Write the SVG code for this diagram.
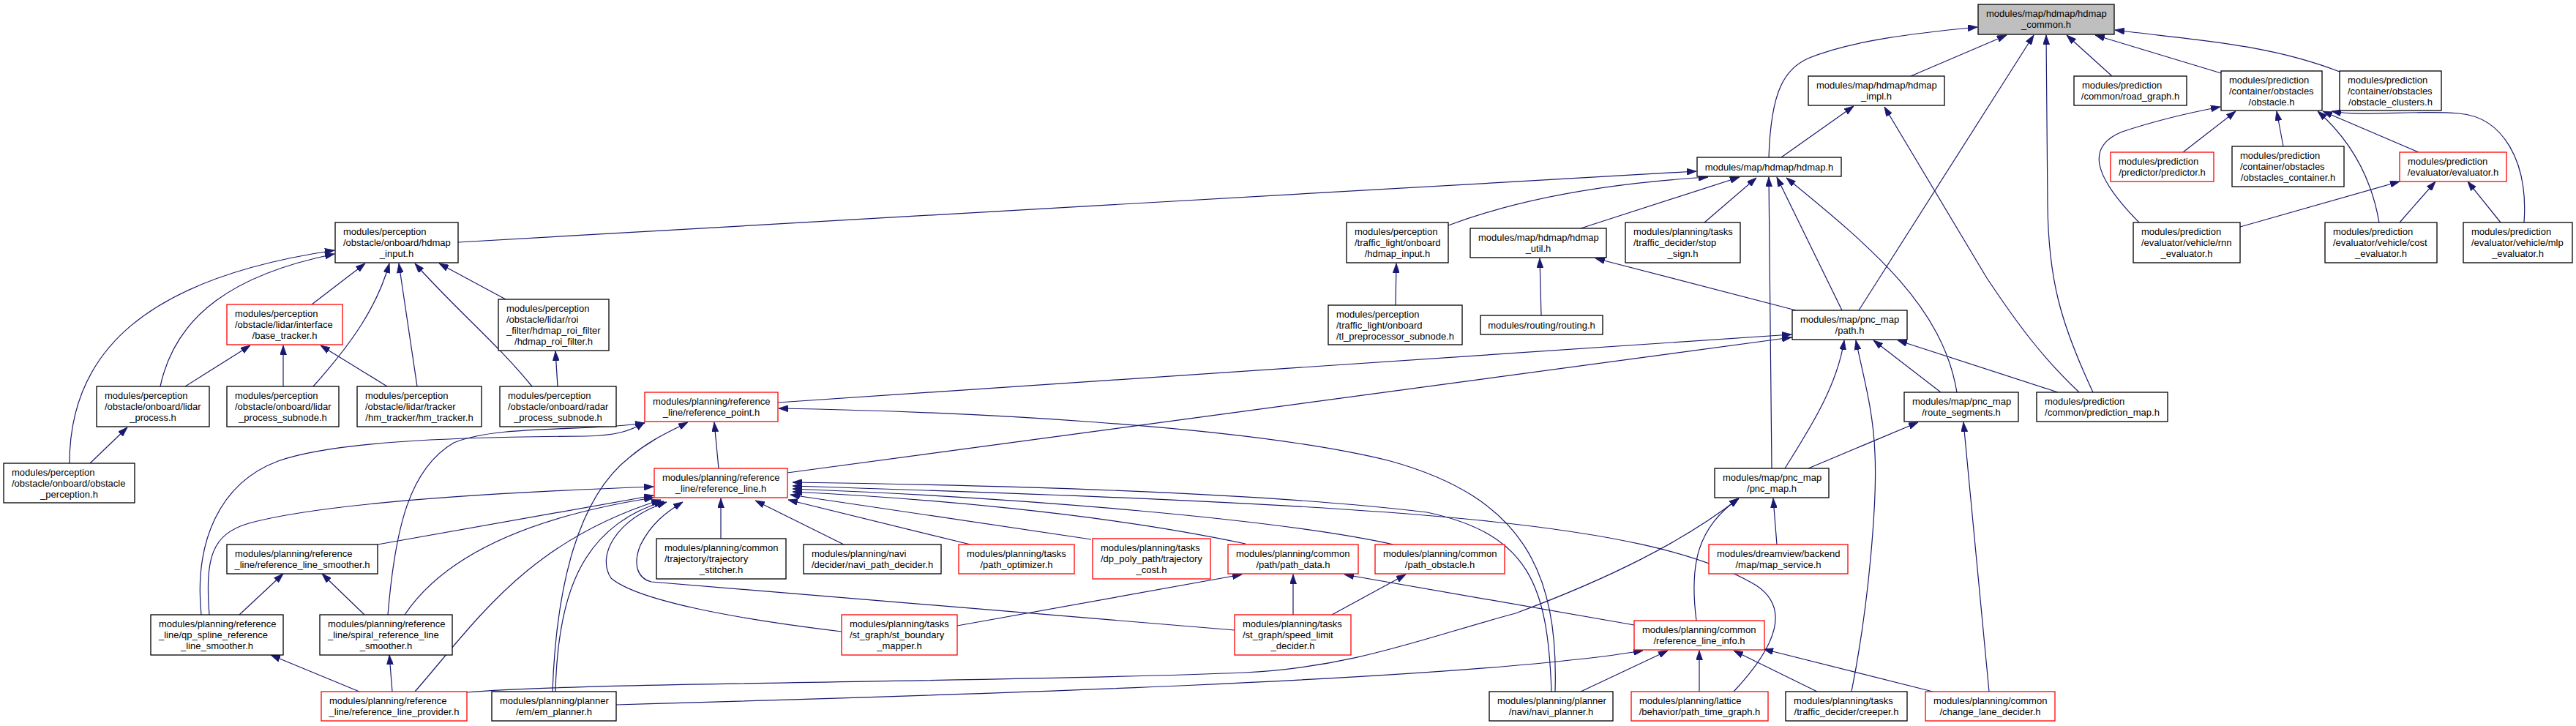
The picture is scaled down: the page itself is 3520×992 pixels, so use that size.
<svg xmlns="http://www.w3.org/2000/svg" width="3520" height="992" viewBox="0 0 3520 992">
<style>
.node rect{fill:#fff;stroke:#000;stroke-width:1.3}
.node.red rect{stroke:#ff0000}
.node.gray rect{fill:#bfbfbf}
.node text{font-family:"Liberation Sans",Arial,sans-serif;font-size:13px;fill:#000}
.node text.m{text-anchor:middle}
#edges path{fill:none;stroke:#191970;stroke-width:1.2;marker-end:url(#ah)}
</style>
<defs>
<marker id="ah" viewBox="0 0 13 9" refX="13" refY="4.5" markerWidth="13" markerHeight="9" markerUnits="userSpaceOnUse" orient="auto">
<path d="M0,0 L13,4.5 L0,9 z" fill="#191970" stroke="#191970" stroke-width="0.8"/>
</marker>
</defs>
<rect x="0" y="0" width="3520" height="992" fill="#fff"/>
<g id="edges">
<path d="M2417,215 C2420,120 2440,95 2470,80 C2530,55 2620,45 2702,37"/>
<path d="M2611,104 L2742,48"/>
<path d="M2540,424 L2779,48"/>
<path d="M2860,536 C2815,440 2799,380 2798,280 L2796,48"/>
<path d="M2886,104 L2824,48"/>
<path d="M3035,100 L2863,48"/>
<path d="M3197,98 C3100,60 3000,55 2890,41"/>
<path d="M2434,215 L2533,145"/>
<path d="M2841,536 C2790,488 2755,440 2715,380 L2575,146"/>
<path d="M626,331 L2318,234"/>
<path d="M1979,308 Q2120,255 2334,242"/>
<path d="M2160,312 L2377,242"/>
<path d="M2329,304 L2400,243"/>
<path d="M2421,640 L2417,242"/>
<path d="M2517,424 L2428,242"/>
<path d="M2674,536 C2655,420 2560,340 2441,243"/>
<path d="M95,633 C95,480 200,380 457,342"/>
<path d="M219,528 C240,430 320,375 457,347"/>
<path d="M426,416 L499,360"/>
<path d="M428,528 C480,470 515,420 532,360"/>
<path d="M570,528 L545,360"/>
<path d="M727,528 C680,470 620,420 567,360"/>
<path d="M691,409 L600,360"/>
<path d="M253,528 L342,472"/>
<path d="M387,528 L387,472"/>
<path d="M529,528 L438,472"/>
<path d="M762,528 L759,480"/>
<path d="M123,633 L174,584"/>
<path d="M1063,550 L2448,457"/>
<path d="M1076,646 L2448,461"/>
<path d="M2439,640 C2470,590 2510,530 2520,465"/>
<path d="M2652,536 L2560,465"/>
<path d="M2812,536 L2593,465"/>
<path d="M2530,945 C2555,820 2565,680 2562,620 C2560,560 2545,510 2536,465"/>
<path d="M2454,424 L2180,353"/>
<path d="M2106,431 L2104,353"/>
<path d="M1907,417 L1908,360"/>
<path d="M2471,640 L2621,577"/>
<path d="M2718,945 L2683,577"/>
<path d="M2428,744 L2423,681"/>
<path d="M2318,848 C2308,770 2320,720 2376,681"/>
<path d="M638,946 C800,932 1400,932 1700,919 C1850,912 1950,870 2071,838 C2200,790 2300,740 2376,681"/>
<path d="M842,963 C1300,950 2000,930 2245,889"/>
<path d="M2160,945 L2279,889"/>
<path d="M2322,945 L2322,889"/>
<path d="M2483,945 L2369,889"/>
<path d="M2641,945 L2410,887"/>
<path d="M2233,854 L1837,785"/>
<path d="M1308,855 L1697,785"/>
<path d="M1767,840 L1767,785"/>
<path d="M1820,840 L1921,785"/>
<path d="M286,840 C280,760 290,730 340,715 C450,685 700,672 893,665"/>
<path d="M516,744 L893,677"/>
<path d="M553,840 C600,770 700,710 893,680"/>
<path d="M567,945 C650,850 720,740 903,683"/>
<path d="M759,945 C762,820 790,720 907,685"/>
<path d="M1150,863 C1000,845 870,820 835,790 C815,760 840,710 911,686"/>
<path d="M1687,861 L890,795 C870,790 865,770 875,745 C890,715 910,700 933,686"/>
<path d="M985,736 L985,681"/>
<path d="M1153,744 L1032,684"/>
<path d="M1326,744 L1077,683"/>
<path d="M1491,737 L1080,676"/>
<path d="M1702,743 C1500,700 1250,680 1083,672"/>
<path d="M1904,744 C1750,710 1400,680 1083,668"/>
<path d="M2369,945 C2430,880 2445,830 2400,800 C2250,710 1900,690 1083,664"/>
<path d="M2120,945 C2115,800 2090,730 1950,700 C1700,670 1300,662 1083,659"/>
<path d="M982,640 L976,577"/>
<path d="M2125,945 C2130,780 2080,680 1900,630 C1700,580 1300,562 1064,558"/>
<path d="M275,840 C265,740 300,660 380,630 C450,605 600,597 800,596 C840,595 860,590 881,577"/>
<path d="M530,840 C540,720 560,640 620,605 C680,580 800,590 881,578"/>
<path d="M755,945 C760,800 790,680 860,625 C890,600 915,590 940,577"/>
<path d="M327,840 L387,784"/>
<path d="M498,840 L440,784"/>
<path d="M491,945 L370,895"/>
<path d="M536,945 L532,895"/>
<path d="M2923,304 C2860,240 2850,200 2900,180 Q2960,160 3034,146"/>
<path d="M2983,208 L3055,152"/>
<path d="M3120,200 L3111,152"/>
<path d="M3251,304 C3240,240 3210,190 3167,152"/>
<path d="M3305,208 L3174,152"/>
<path d="M3449,304 C3455,220 3420,160 3360,155 C3300,150 3230,160 3186,152"/>
<path d="M3061,310 L3279,248"/>
<path d="M3279,304 L3328,248"/>
<path d="M3417,304 L3372,248"/>
</g>
<g id="n_hdmap_common" class="node gray"><rect x="2703" y="6" width="186" height="41"/><text x="2714" y="23">modules/map/hdmap/hdmap</text><text class="m" x="2796" y="38">_common.h</text></g>
<g id="n_hdmap_impl" class="node"><rect x="2471" y="104" width="186" height="40"/><text x="2482" y="121">modules/map/hdmap/hdmap</text><text class="m" x="2564" y="136">_impl.h</text></g>
<g id="n_road_graph" class="node"><rect x="2834" y="104" width="154" height="40"/><text x="2845" y="121">modules/prediction</text><text class="m" x="2911" y="136">/common/road_graph.h</text></g>
<g id="n_obstacle" class="node"><rect x="3035" y="97" width="138" height="54"/><text x="3046" y="114">modules/prediction</text><text x="3046" y="129">/container/obstacles</text><text class="m" x="3104" y="144">/obstacle.h</text></g>
<g id="n_obstacle_clusters" class="node"><rect x="3197" y="97" width="139" height="54"/><text x="3208" y="114">modules/prediction</text><text x="3208" y="129">/container/obstacles</text><text class="m" x="3266.5" y="144">/obstacle_clusters.h</text></g>
<g id="n_hdmap" class="node"><rect x="2319" y="215" width="197" height="26"/><text class="m" x="2417.5" y="232.5">modules/map/hdmap/hdmap.h</text></g>
<g id="n_predictor" class="node red"><rect x="2884" y="208" width="141" height="40"/><text x="2895" y="225">modules/prediction</text><text class="m" x="2954.5" y="240">/predictor/predictor.h</text></g>
<g id="n_obstacles_container" class="node"><rect x="3050" y="200" width="153" height="55"/><text x="3061" y="217">modules/prediction</text><text x="3061" y="232">/container/obstacles</text><text class="m" x="3126.5" y="247">/obstacles_container.h</text></g>
<g id="n_evaluator" class="node red"><rect x="3279" y="208" width="146" height="40"/><text x="3290" y="225">modules/prediction</text><text class="m" x="3352" y="240">/evaluator/evaluator.h</text></g>
<g id="n_obs_hdmap_input" class="node"><rect x="458" y="304" width="168" height="55"/><text x="469" y="321">modules/perception</text><text x="469" y="336">/obstacle/onboard/hdmap</text><text class="m" x="542" y="351">_input.h</text></g>
<g id="n_tl_hdmap_input" class="node"><rect x="1840" y="304" width="139" height="55"/><text x="1851" y="321">modules/perception</text><text x="1851" y="336">/traffic_light/onboard</text><text class="m" x="1909.5" y="351">/hdmap_input.h</text></g>
<g id="n_hdmap_util" class="node"><rect x="2009" y="312" width="186" height="40"/><text x="2020" y="329">modules/map/hdmap/hdmap</text><text class="m" x="2102" y="344">_util.h</text></g>
<g id="n_stop_sign" class="node"><rect x="2221" y="304" width="157" height="55"/><text x="2232" y="321">modules/planning/tasks</text><text x="2232" y="336">/traffic_decider/stop</text><text class="m" x="2299.5" y="351">_sign.h</text></g>
<g id="n_rnn" class="node"><rect x="2915" y="304" width="146" height="55"/><text x="2926" y="321">modules/prediction</text><text x="2926" y="336">/evaluator/vehicle/rnn</text><text class="m" x="2988" y="351">_evaluator.h</text></g>
<g id="n_cost" class="node"><rect x="3177" y="304" width="153" height="55"/><text x="3188" y="321">modules/prediction</text><text x="3188" y="336">/evaluator/vehicle/cost</text><text class="m" x="3253.5" y="351">_evaluator.h</text></g>
<g id="n_mlp" class="node"><rect x="3366" y="304" width="149" height="55"/><text x="3377" y="321">modules/prediction</text><text x="3377" y="336">/evaluator/vehicle/mlp</text><text class="m" x="3440.5" y="351">_evaluator.h</text></g>
<g id="n_base_tracker" class="node red"><rect x="310" y="416" width="158" height="55"/><text x="321" y="433">modules/perception</text><text x="321" y="448">/obstacle/lidar/interface</text><text class="m" x="389" y="463">/base_tracker.h</text></g>
<g id="n_roi_filter" class="node"><rect x="681" y="409" width="151" height="70"/><text x="692" y="426">modules/perception</text><text x="692" y="441">/obstacle/lidar/roi</text><text x="692" y="456">_filter/hdmap_roi_filter</text><text class="m" x="756.5" y="471">/hdmap_roi_filter.h</text></g>
<g id="n_tl_preprocessor" class="node"><rect x="1815" y="417" width="183" height="54"/><text x="1826" y="434">modules/perception</text><text x="1826" y="449">/traffic_light/onboard</text><text class="m" x="1906.5" y="464">/tl_preprocessor_subnode.h</text></g>
<g id="n_routing" class="node"><rect x="2023" y="431" width="167" height="26"/><text class="m" x="2106.5" y="448.5">modules/routing/routing.h</text></g>
<g id="n_path" class="node"><rect x="2449" y="424" width="157" height="40"/><text x="2460" y="441">modules/map/pnc_map</text><text class="m" x="2527.5" y="456">/path.h</text></g>
<g id="n_lidar_process" class="node"><rect x="132" y="528" width="154" height="55"/><text x="143" y="545">modules/perception</text><text x="143" y="560">/obstacle/onboard/lidar</text><text class="m" x="209" y="575">_process.h</text></g>
<g id="n_lidar_process_subnode" class="node"><rect x="310" y="528" width="153" height="55"/><text x="321" y="545">modules/perception</text><text x="321" y="560">/obstacle/onboard/lidar</text><text class="m" x="386.5" y="575">_process_subnode.h</text></g>
<g id="n_hm_tracker" class="node"><rect x="488" y="528" width="170" height="55"/><text x="499" y="545">modules/perception</text><text x="499" y="560">/obstacle/lidar/tracker</text><text class="m" x="573" y="575">/hm_tracker/hm_tracker.h</text></g>
<g id="n_radar" class="node"><rect x="683" y="528" width="159" height="55"/><text x="694" y="545">modules/perception</text><text x="694" y="560">/obstacle/onboard/radar</text><text class="m" x="762.5" y="575">_process_subnode.h</text></g>
<g id="n_reference_point" class="node red"><rect x="881" y="536" width="182" height="40"/><text x="892" y="553">modules/planning/reference</text><text class="m" x="972" y="568">_line/reference_point.h</text></g>
<g id="n_route_segments" class="node"><rect x="2602" y="536" width="156" height="40"/><text x="2613" y="553">modules/map/pnc_map</text><text class="m" x="2680" y="568">/route_segments.h</text></g>
<g id="n_prediction_map" class="node"><rect x="2783" y="536" width="179" height="40"/><text x="2794" y="553">modules/prediction</text><text class="m" x="2872.5" y="568">/common/prediction_map.h</text></g>
<g id="n_obstacle_perception" class="node"><rect x="5" y="633" width="179" height="54"/><text x="16" y="650">modules/perception</text><text x="16" y="665">/obstacle/onboard/obstacle</text><text class="m" x="94.5" y="680">_perception.h</text></g>
<g id="n_reference_line" class="node red"><rect x="894" y="640" width="182" height="40"/><text x="905" y="657">modules/planning/reference</text><text class="m" x="985" y="672">_line/reference_line.h</text></g>
<g id="n_pnc_map" class="node"><rect x="2343" y="640" width="156" height="40"/><text x="2354" y="657">modules/map/pnc_map</text><text class="m" x="2421" y="672">/pnc_map.h</text></g>
<g id="n_smoother" class="node"><rect x="310" y="744" width="206" height="40"/><text x="321" y="761">modules/planning/reference</text><text class="m" x="413" y="776">_line/reference_line_smoother.h</text></g>
<g id="n_stitcher" class="node"><rect x="897" y="736" width="177" height="55"/><text x="908" y="753">modules/planning/common</text><text x="908" y="768">/trajectory/trajectory</text><text class="m" x="985.5" y="783">_stitcher.h</text></g>
<g id="n_navi_path_decider" class="node"><rect x="1098" y="744" width="188" height="40"/><text x="1109" y="761">modules/planning/navi</text><text class="m" x="1192" y="776">/decider/navi_path_decider.h</text></g>
<g id="n_path_optimizer" class="node red"><rect x="1310" y="744" width="158" height="40"/><text x="1321" y="761">modules/planning/tasks</text><text class="m" x="1389" y="776">/path_optimizer.h</text></g>
<g id="n_dp_poly" class="node red"><rect x="1493" y="736" width="161" height="55"/><text x="1504" y="753">modules/planning/tasks</text><text x="1504" y="768">/dp_poly_path/trajectory</text><text class="m" x="1573.5" y="783">_cost.h</text></g>
<g id="n_path_data" class="node red"><rect x="1678" y="744" width="178" height="40"/><text x="1689" y="761">modules/planning/common</text><text class="m" x="1767" y="776">/path/path_data.h</text></g>
<g id="n_path_obstacle" class="node red"><rect x="1879" y="744" width="177" height="40"/><text x="1890" y="761">modules/planning/common</text><text class="m" x="1967.5" y="776">/path_obstacle.h</text></g>
<g id="n_map_service" class="node red"><rect x="2335" y="744" width="190" height="40"/><text x="2346" y="761">modules/dreamview/backend</text><text class="m" x="2430" y="776">/map/map_service.h</text></g>
<g id="n_qp_spline" class="node"><rect x="206" y="840" width="181" height="55"/><text x="217" y="857">modules/planning/reference</text><text x="217" y="872">_line/qp_spline_reference</text><text class="m" x="296.5" y="887">_line_smoother.h</text></g>
<g id="n_spiral" class="node"><rect x="437" y="840" width="181" height="55"/><text x="448" y="857">modules/planning/reference</text><text x="448" y="872">_line/spiral_reference_line</text><text class="m" x="527.5" y="887">_smoother.h</text></g>
<g id="n_st_boundary" class="node red"><rect x="1150" y="840" width="158" height="55"/><text x="1161" y="857">modules/planning/tasks</text><text x="1161" y="872">/st_graph/st_boundary</text><text class="m" x="1229" y="887">_mapper.h</text></g>
<g id="n_speed_limit" class="node red"><rect x="1687" y="840" width="159" height="55"/><text x="1698" y="857">modules/planning/tasks</text><text x="1698" y="872">/st_graph/speed_limit</text><text class="m" x="1766.5" y="887">_decider.h</text></g>
<g id="n_reference_line_info" class="node red"><rect x="2233" y="848" width="178" height="40"/><text x="2244" y="865">modules/planning/common</text><text class="m" x="2322" y="880">/reference_line_info.h</text></g>
<g id="n_provider" class="node red"><rect x="439" y="945" width="199" height="40"/><text x="450" y="962">modules/planning/reference</text><text class="m" x="538.5" y="977">_line/reference_line_provider.h</text></g>
<g id="n_em_planner" class="node"><rect x="672" y="945" width="170" height="40"/><text x="683" y="962">modules/planning/planner</text><text class="m" x="757" y="977">/em/em_planner.h</text></g>
<g id="n_navi_planner" class="node"><rect x="2035" y="945" width="169" height="40"/><text x="2046" y="962">modules/planning/planner</text><text class="m" x="2119.5" y="977">/navi/navi_planner.h</text></g>
<g id="n_path_time_graph" class="node red"><rect x="2229" y="945" width="187" height="40"/><text x="2240" y="962">modules/planning/lattice</text><text class="m" x="2322.5" y="977">/behavior/path_time_graph.h</text></g>
<g id="n_creeper" class="node"><rect x="2440" y="945" width="166" height="40"/><text x="2451" y="962">modules/planning/tasks</text><text class="m" x="2523" y="977">/traffic_decider/creeper.h</text></g>
<g id="n_change_lane" class="node red"><rect x="2631" y="945" width="177" height="40"/><text x="2642" y="962">modules/planning/common</text><text class="m" x="2719.5" y="977">/change_lane_decider.h</text></g>
</svg>
